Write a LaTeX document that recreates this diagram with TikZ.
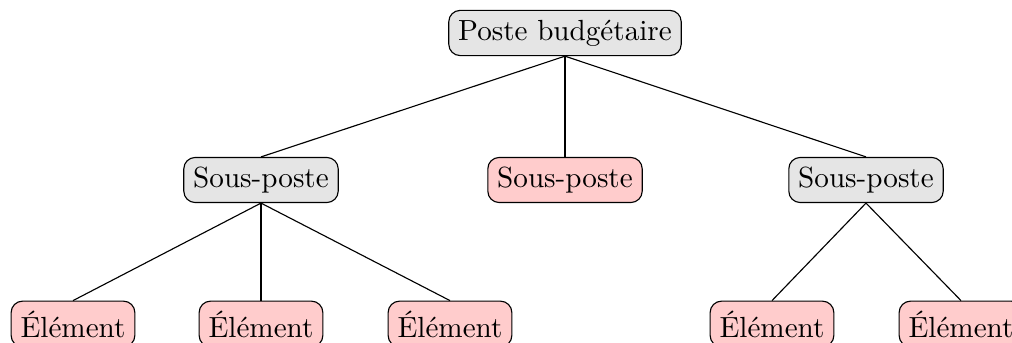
\documentclass[tikz,border=0pt]{standalone}
\usepackage{fontspec}
\begin{document}
\begin{tikzpicture}[x=0.3534pt,y=-0.3534pt,
  item/.style={draw,rounded corners=4pt,inner sep=3.33pt,font=\fontsize{10.3}{12}\selectfont},
  group/.style={item,fill=gray!20},
  leaf/.style={item,fill=red!20}]
  \clip (0,0) rectangle (1012,343);
  \useasboundingbox (0,0) rectangle (1012,343);
  % root
  \node[group] (root) at (565,33) {Poste budgétaire};
  % second level
  \node[group] (s1) at (261,180) {Sous-poste};
  \node[leaf]  (s2) at (565,180) {Sous-poste};
  \node[group] (s3) at (866,180) {Sous-poste};
  % third level
  \node[leaf] (e1) at (73,324) {Élément};
  \node[leaf] (e2) at (261,324) {Élément};
  \node[leaf] (e3) at (450,324) {Élément};
  \node[leaf] (e4) at (772,324) {Élément};
  \node[leaf] (e5) at (961,324) {Élément};
  % connectors
  \foreach \c in {s1,s2,s3} \draw (root.south) -- (\c.north);
  \foreach \c in {e1,e2,e3} \draw (s1.south) -- (\c.north);
  \foreach \c in {e4,e5} \draw (s3.south) -- (\c.north);
\end{tikzpicture}
\end{document}
